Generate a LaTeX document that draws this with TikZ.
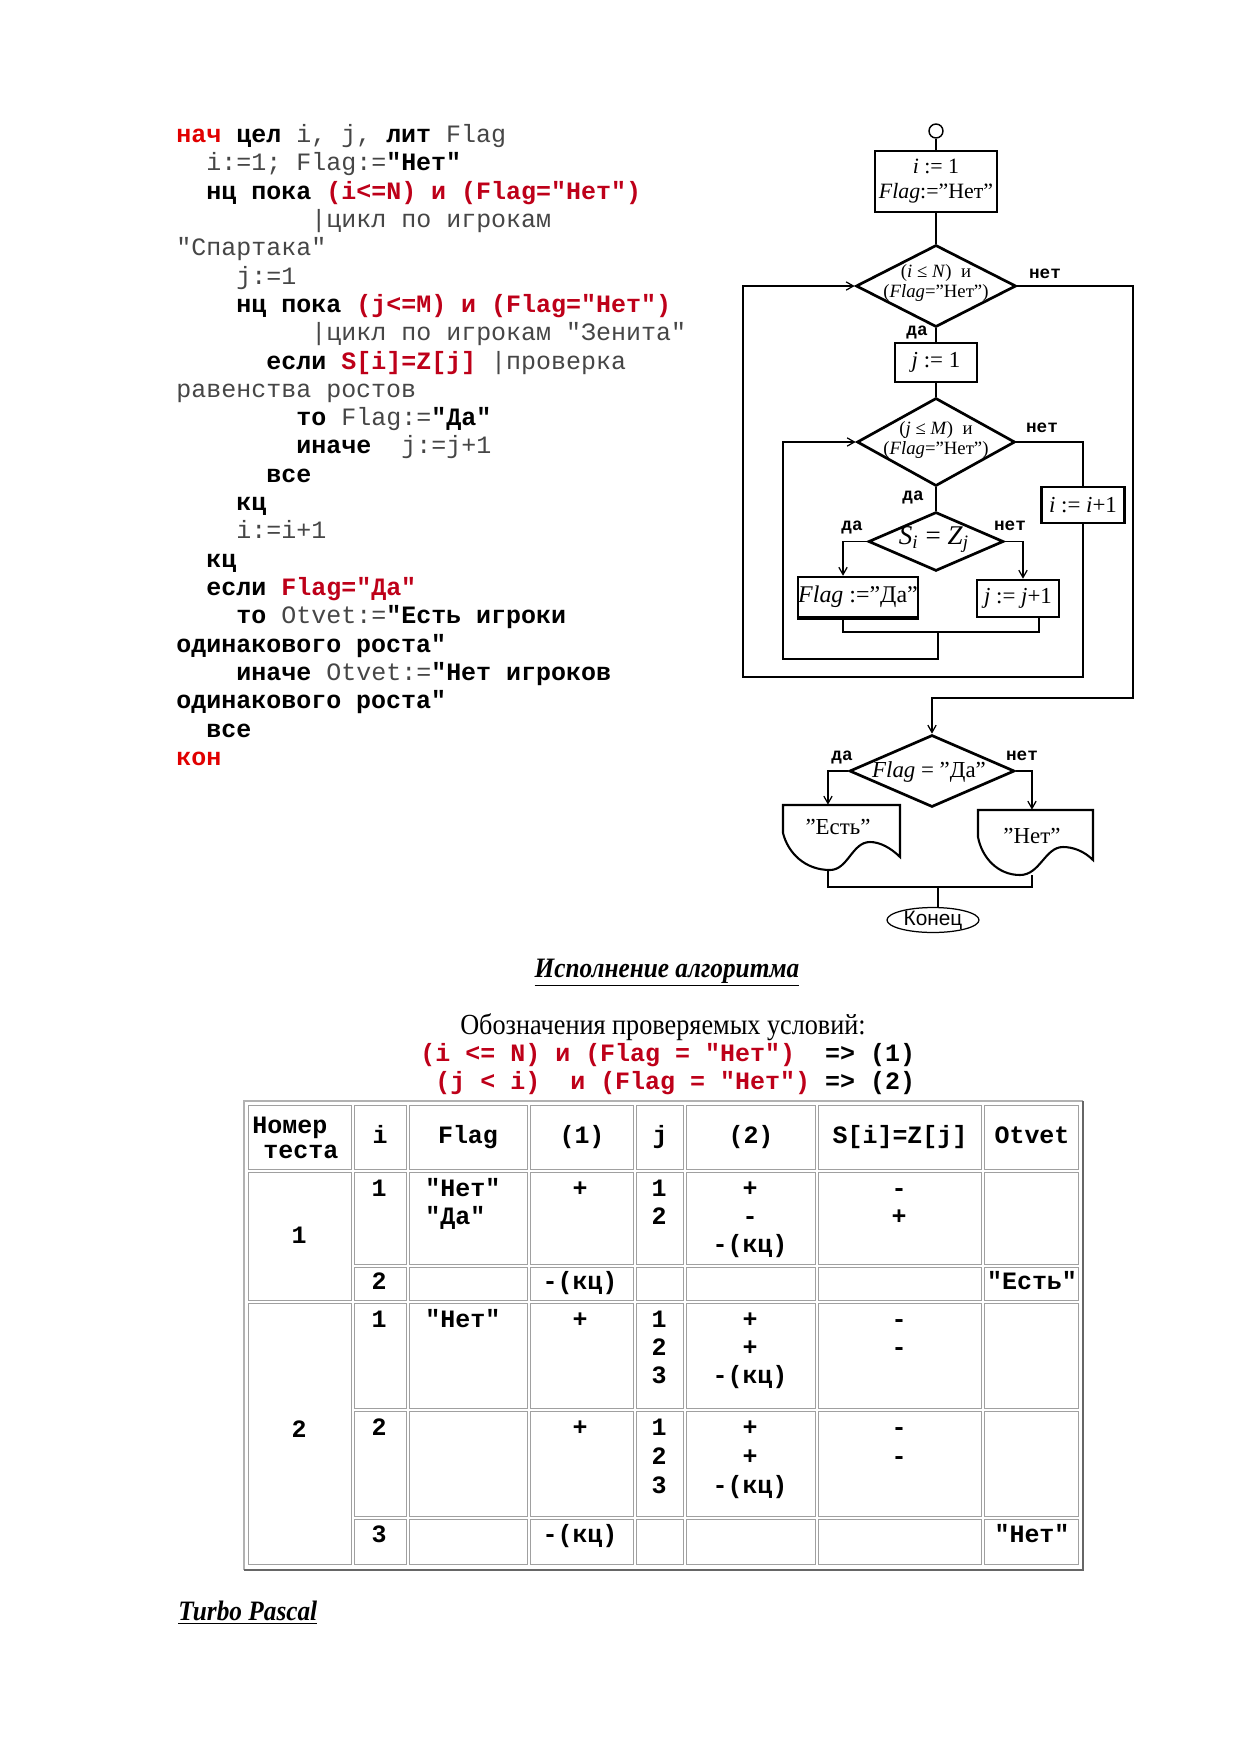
\documentclass[tikz,border=0pt]{standalone}
\usepackage{fontspec}
\setmainfont{Liberation Serif}
\newfontfamily\cour{Liberation Mono}
\newfontfamily\arialf{Liberation Sans}
\newfontfamily\cserif{Liberation Serif}[FakeStretch=0.9]
\usetikzlibrary{arrows.meta,shapes.geometric,calc}
\definecolor{kred}{RGB}{225,0,0}
\definecolor{cred}{RGB}{190,0,25}
\definecolor{plaintxt}{RGB}{70,70,70}
\definecolor{gridc}{RGB}{160,160,160}
\newcommand\kw[1]{\textbf{#1}}
\newcommand\rk[1]{\textcolor{cred}{\textbf{#1}}}
\newcommand\rn[1]{\textcolor{kred}{\textbf{#1}}}
\newcommand\pl[1]{\textcolor{plaintxt}{#1}}
\newcommand\ssub[1]{\textsubscript{\textit{#1}}}
\begin{document}
\begin{tikzpicture}[x=0.48045pt,y=-0.48045pt,
  code/.style={anchor=base west,inner sep=0pt,font=\cour\fontsize{12pt}{13.6pt}\selectfont},
  tcell/.style={anchor=base,inner sep=0pt,font=\cour\bfseries\fontsize{12pt}{13.6pt}\selectfont},
  tcellw/.style={tcell,anchor=base west},
  gridcell/.style={draw=gridc,line width=0.5pt},
  conn/.style={line width=0.6pt},
  arr/.style={conn,-{Straight Barb[length=3.5pt,width=4pt]}},
  box/.style={draw,line width=1.2pt,rectangle,inner sep=0pt,align=center,font=\fontsize{11pt}{12pt}\selectfont},
  dia/.style={draw,line width=1.3pt,diamond,inner sep=0pt},
  dtext/.style={inner sep=0pt,align=center,font=\fontsize{9pt}{9.6pt}\selectfont},
  yn/.style={inner sep=0pt,font=\cour\bfseries\fontsize{8.5pt}{9pt}\selectfont},
]
\useasboundingbox (0,0) rectangle (1239,1754);
\fill[white] (0,0) rectangle (1239,1754);

% ---------------- code listing ----------------
\node[code] (L1)  at (176,142.5) {\rn{нач} \kw{цел} \pl{i, j,} \kw{лит} \pl{Flag}};
\node[code] (L2)  at (206,170.8) {\pl{i:=1; Flag:=}\kw{"Нет"}};
\node[code] (L3)  at (206,199.1) {\kw{нц пока} \rk{(i<=N) и (Flag="Нет")}};
\node[code] (L4)  at (311,227.4) {\pl{|цикл по игрокам}};
\node[code] (L5)  at (176,255.7) {\pl{"Спартака"}};
\node[code] (L6)  at (236,284.1) {\pl{j:=1}};
\node[code] (L7)  at (236,312.4) {\kw{нц пока} \rk{(j<=M) и (Flag="Нет")}};
\node[code] (L8)  at (311,340.7) {\pl{|цикл по игрокам "Зенита"}};
\node[code] (L9)  at (266,369.0) {\kw{если} \rk{S[i]=Z[j]} \pl{|проверка}};
\node[code] (L10) at (176,397.3) {\pl{равенства ростов}};
\node[code] (L11) at (296,425.6) {\kw{то} \pl{Flag:=}\kw{"Да"}};
\node[code] (L12) at (296,453.9) {\kw{иначе}~ \pl{j:=j+1}};
\node[code] (L13) at (266,482.2) {\kw{все}};
\node[code] (L14) at (236,510.5) {\kw{кц}};
\node[code] (L15) at (236,538.8) {\pl{i:=i+1}};
\node[code] (L16) at (206,567.2) {\kw{кц}};
\node[code] (L17) at (206,595.5) {\kw{если} \rk{Flag="Да"}};
\node[code] (L18) at (236,623.8) {\kw{то} \pl{Otvet:=}\kw{"Есть игроки}};
\node[code] (L19) at (176,652.1) {\kw{одинакового роста"}};
\node[code] (L20) at (236,680.4) {\kw{иначе} \pl{Otvet:=}\kw{"Нет игроков}};
\node[code] (L21) at (176,708.7) {\kw{одинакового роста"}};
\node[code] (L22) at (206,737.0) {\kw{все}};
\node[code] (L23) at (176,765.3) {\rn{кон}};

% ---------------- flowchart ----------------
\node[circle,draw,line width=0.7pt,minimum size=6.7pt,inner sep=0pt] (st) at (936,131) {};
\node[box,minimum width=58.6pt,minimum height=29.3pt,font=\fontsize{10.5pt}{12pt}\selectfont] (b1) at (936,181.5) {\textit{i} := 1\\\textit{Flag}:="Нет"};
\node[dia,minimum width=76.9pt,minimum height=39.4pt] (d1) at (936,286) {};
\node[dtext] (d1t) at (936,283) {(\textit{i} ≤ \textit{N})~ и\\(\textit{Flag}="Нет")};
\node[box,minimum width=39.4pt,minimum height=18.7pt] (bj1) at (936,362.5) {\textit{j} := 1};
\node[dia,minimum width=75.9pt,minimum height=42.3pt] (d2) at (936,442) {};
\node[dtext] (d2t) at (936,440) {(\textit{j} ≤ \textit{M})~ и\\(\textit{Flag}="Нет")};
\node[box,minimum width=39.9pt,minimum height=17.3pt] (bii) at (1083,505) {\textit{i} := \textit{i}+1};
\node[dia,minimum width=64.9pt,minimum height=28.3pt] (d3) at (936,541.5) {};
\node[inner sep=0pt,font=\fontsize{13pt}{14pt}\selectfont] (d3t) at (934,540) {\textit{S}\ssub{i}\ =\ \textit{Z}\ssub{j}};
\node[box,minimum width=56.7pt,minimum height=19.2pt,font=\fontsize{11.5pt}{12pt}\selectfont] (bfl) at (858,597) {\textit{Flag} :="Да"};
\draw[line width=1.8pt] (bfl.south west) -- (bfl.south east);
\node[box,minimum width=39.4pt,minimum height=17.8pt] (bjj) at (1018,598.5) {\textit{j} := \textit{j}+1};
\node[dia,minimum width=79.3pt,minimum height=34.6pt] (d4) at (932,771) {};
\node[inner sep=0pt,font=\fontsize{11pt}{12pt}\selectfont] (d4t) at (929,772) {\textit{Flag} = "Да"};

% documents
\node[minimum width=56.2pt,minimum height=31.2pt,inner sep=0pt] (doc1) at (841.5,837.5) {};
\node[minimum width=55.3pt,minimum height=31.2pt,inner sep=0pt] (doc2) at (1035.5,842.5) {};
\draw[line width=1pt] (783,833) -- (783,805) -- (900,805) -- (900,857)
  .. controls (891,848) and (880,842) .. (870,842)
  .. controls (852,842) and (848,870) .. (830,870)
  .. controls (805,870) and (788,853) .. (783,833);
\draw[line width=1pt] (978,837) -- (978,810) -- (1093,810) -- (1093,860)
  .. controls (1084,851) and (1073,847) .. (1063,847)
  .. controls (1045,847) and (1040,875) .. (1020,875)
  .. controls (998,875) and (982,858) .. (978,837);
\node[inner sep=0pt,font=\fontsize{11pt}{12pt}\selectfont] (doc1t) at (838,827) {"Есть"};
\node[inner sep=0pt,font=\fontsize{11pt}{12pt}\selectfont] (doc2t) at (1032,836) {"Нет"};
\node[ellipse,draw,line width=0.6pt,minimum width=44.2pt,minimum height=12pt,inner sep=0pt] (kon) at (933,920) {};
\node[inner sep=0pt,font=\arialf\fontsize{10pt}{12pt}\selectfont] (kont) at (kon) {Конец};

% yes/no labels
\node[yn] (y1) at (917,332) {да};
\node[yn] (n1) at (1045,274) {нет};
\node[yn] (y2) at (913,497) {да};
\node[yn] (n2) at (1042,428) {нет};
\node[yn] (y3) at (852,527) {да};
\node[yn] (n3) at (1010,526) {нет};
\node[yn] (y4) at (842,757) {да};
\node[yn] (n4) at (1022,756) {нет};

% connectors
\coordinate (m1) at (938,632);
\coordinate (m1c) at (783,659);
\coordinate (c2) at (743,677);
\coordinate (c3) at (1133,698);
\coordinate (m2) at (938,887);
\draw[conn] (st) -- (b1);
\draw[conn] (b1) -- (d1);
\draw[conn] (d1) -- (bj1);
\draw[conn] (bj1) -- (d2);
\draw[conn] (d2) -- (d3);
\draw[arr] (d3.west) -| ([xshift=-7.2pt]bfl.north);
\draw[arr] (d3.east) -| ([xshift=2.4pt]bjj.north);
\draw[conn] ([xshift=-7.2pt]bfl.south) |- (m1) -| ([xshift=10.1pt]bjj.south);
\draw[arr] (m1) |- (m1c) |- (d2.west);
\draw[conn] (d2.east) -| (bii.north);
\draw[arr] (bii.south) |- (c2) |- (d1.west);
\draw[arr] (d1.east) -| (c3) -| (d4.north);
\draw[arr] (d4.west) -| ([xshift=-6.5pt]doc1.north);
\draw[arr] (d4.east) -| ([xshift=-1.7pt]doc2.north);
\draw[conn] ([xshift=-6.5pt]doc1.south) |- (m2) -| ([xshift=-1.7pt]doc2.south);
\draw[conn] (m2) -- (m2 |- kon.north);

% ---------------- headings ----------------
\node[inner sep=0pt,anchor=base,font=\cserif\bfseries\itshape\fontsize{13.5pt}{15pt}\selectfont] (ttl) at (667,977) {\underline{Исполнение алгоритма}};
\node[inner sep=0pt,anchor=base,font=\cserif\fontsize{14pt}{16pt}\selectfont] (obz) at (663,1034) {Обозначения проверяемых условий:};
\node[code,font=\cour\bfseries\fontsize{12pt}{13.6pt}\selectfont] (cond1) at (420,1061) {\textcolor{cred}{(i <= N) и (Flag = "Нет")}~ => (1)};
\node[code,font=\cour\bfseries\fontsize{12pt}{13.6pt}\selectfont] (cond2) at (435,1089) {\textcolor{cred}{(j < i)~ и (Flag = "Нет")} => (2)};
\node[inner sep=0pt,anchor=base west,font=\cserif\bfseries\itshape\fontsize{13.5pt}{15pt}\selectfont] (tp) at (178,1620) {\underline{Turbo Pascal}};

% ---------------- table ----------------
\draw[draw=black!30,line width=0.6pt] (244,1570) -- (244,1101) -- (1083,1101);
\draw[draw=black!60,line width=0.6pt] (1083,1101) -- (1083,1570) -- (244,1570);
\foreach \xa/\xb in {247/353,353/408,408/529,529/635,635/685,685/817,817/983,983/1080}
  {\draw[gridcell] (\xa+1.5,1105.5) rectangle (\xb-1.5,1169.5);}
\draw[gridcell] (248.5,1172.5) rectangle (351.5,1300.5);
\draw[gridcell] (248.5,1303.5) rectangle (351.5,1564.5);
\foreach \xa/\xb in {353/408,408/529,529/635,635/685,685/817,817/983,983/1080}
  \foreach \ya/\yb in {1171/1266,1266/1302,1302/1410,1410/1518,1518/1566}
    {\draw[gridcell] (\xa+1.5,\ya+1.5) rectangle (\xb-1.5,\yb-1.5);}

% header
\node[tcellw] (hN1) at (252,1133) {Номер};
\node[tcellw] (hN2) at (263,1158) {теста};
\node[tcell] (hi) at (380,1143) {i};
\node[tcell] (hf) at (468,1143) {Flag};
\node[tcell] (h1) at (582,1143) {(1)};
\node[tcell] (hj) at (660,1143) {j};
\node[tcell] (h2) at (751,1143) {(2)};
\node[tcell] (hs) at (900,1143) {S[i]=Z[j]};
\node[tcell] (ho) at (1032,1143) {Otvet};

% test 1
\node[tcell] (t1) at (299,1243) {1};
\node[tcell] (a1i) at (379,1196) {1};
\node[tcellw] (a1f1) at (425,1196) {"Нет"};
\node[tcellw] (a1f2) at (425,1224) {"Да"};
\node[tcell] (a1c1) at (580,1196) {+};
\node[tcell] (a1j1) at (659,1196) {1};
\node[tcell] (a1j2) at (659,1224) {2};
\node[tcell] (a1c2a) at (750,1196) {+};
\node[tcell] (a1c2b) at (750,1224) {-};
\node[tcell] (a1c2c) at (750,1252) {-(кц)};
\node[tcell] (a1s1) at (899,1196) {-};
\node[tcell] (a1s2) at (899,1224) {+};
\node[tcell] (b1i) at (379,1289) {2};
\node[tcell] (b1c1) at (580,1289) {-(кц)};
\node[tcell] (b1o) at (1032,1289) {"Есть"};

% test 2
\node[tcell] (t2) at (299,1437) {2};
\node[tcell] (a2i) at (379,1327) {1};
\node[tcellw] (a2f) at (425,1327) {"Нет"};
\node[tcell] (a2c1) at (580,1327) {+};
\node[tcell] (a2j1) at (659,1327) {1};
\node[tcell] (a2j2) at (659,1355) {2};
\node[tcell] (a2j3) at (659,1383) {3};
\node[tcell] (a2c2a) at (750,1327) {+};
\node[tcell] (a2c2b) at (750,1355) {+};
\node[tcell] (a2c2c) at (750,1383) {-(кц)};
\node[tcell] (a2s1) at (899,1327) {-};
\node[tcell] (a2s2) at (899,1355) {-};
\node[tcell] (b2i) at (379,1435) {2};
\node[tcell] (b2c1) at (580,1435) {+};
\node[tcell] (b2j1) at (659,1435) {1};
\node[tcell] (b2j2) at (659,1464) {2};
\node[tcell] (b2j3) at (659,1493) {3};
\node[tcell] (b2c2a) at (750,1435) {+};
\node[tcell] (b2c2b) at (750,1464) {+};
\node[tcell] (b2c2c) at (750,1493) {-(кц)};
\node[tcell] (b2s1) at (899,1435) {-};
\node[tcell] (b2s2) at (899,1464) {-};
\node[tcell] (c2i) at (379,1542) {3};
\node[tcell] (c2c1) at (580,1542) {-(кц)};
\node[tcell] (c2o) at (1032,1542) {"Нет"};
\end{tikzpicture}
\end{document}
